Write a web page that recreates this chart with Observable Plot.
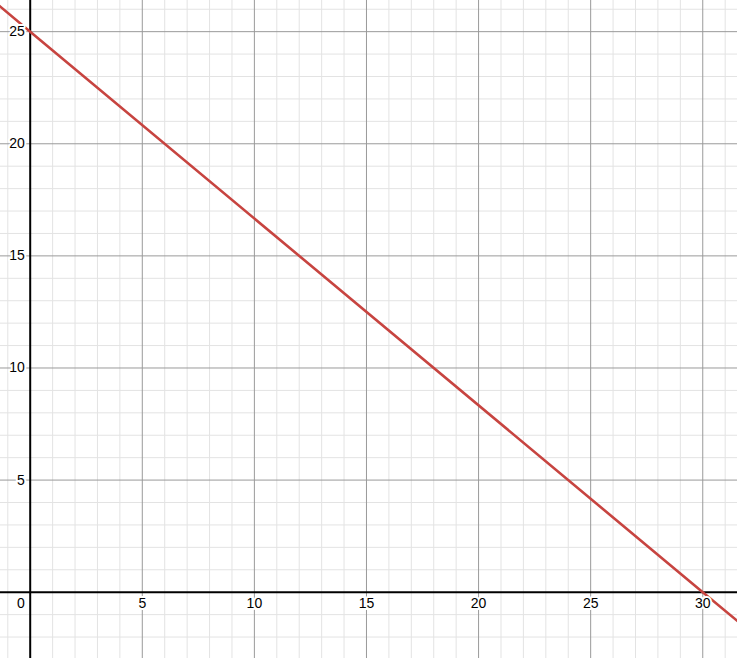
<!DOCTYPE html>
<html>
<head>
<meta charset="utf-8">
<script src="https://cdn.jsdelivr.net/npm/d3@7"></script>
<script src="https://cdn.jsdelivr.net/npm/@observablehq/plot@0.6"></script>
<style>
  html, body { margin: 0; padding: 0; background: #fff; }
  #chart svg { display: block; }
</style>
</head>
<body>
<div id="chart"></div>
<script>
// Tick labels
const xTickLabels = [5, 10, 15, 20, 25, 30];
const yTickLabels = [5, 10, 15, 20, 25];
// Line (passes through (0,25) and (30,0))
const lineX = [-1.4, 0, 30, 31.6];
const lineY = [26.17, 25, 0, -1.33];

const xDomain = [-1.325, 31.55];
const yDomain = [-2.957, 26.39];

const minorX = d3.range(-1, 32).filter(v => v % 5 !== 0);
const minorY = d3.range(-2, 27).filter(v => v % 5 !== 0);
const majorX = d3.range(5, 32, 5);
const majorY = d3.range(5, 27, 5);

const linePts = lineX.map((x, i) => ({x, y: lineY[i]}));
const font = "Liberation Sans, Arial, sans-serif";

const chart = Plot.plot({
  width: 737,
  height: 658,
  margin: 0,
  x: {domain: xDomain, axis: null},
  y: {domain: yDomain, axis: null},
  style: {background: "#fff", fontFamily: font},
  marks: [
    Plot.ruleX(minorX, {stroke: "#e3e3e3", strokeWidth: 1}),
    Plot.ruleY(minorY, {stroke: "#e3e3e3", strokeWidth: 1}),
    Plot.ruleX(majorX, {stroke: "#9a9a9a", strokeWidth: 1}),
    Plot.ruleY(majorY, {stroke: "#9a9a9a", strokeWidth: 1}),
    Plot.ruleX([0], {stroke: "#000", strokeWidth: 2}),
    Plot.ruleY([0], {stroke: "#000", strokeWidth: 2}),
    Plot.line(linePts, {x: "x", y: "y", stroke: "#c74440", strokeWidth: 2.6, clip: true}),
    Plot.text(xTickLabels, {x: d => d, y: 0, text: d => String(d), dy: 11.5,
      fontSize: 14, fill: "#000", stroke: "#fff", strokeWidth: 4, paintOrder: "stroke"}),
    Plot.text(yTickLabels, {x: 0, y: d => d, text: d => String(d), dx: -5.5, textAnchor: "end",
      fontSize: 14, fill: "#000", stroke: "#fff", strokeWidth: 4, paintOrder: "stroke"}),
    Plot.text([0], {x: 0, y: 0, text: d => String(d), dx: -5.5, dy: 11.5, textAnchor: "end",
      fontSize: 14, fill: "#000", stroke: "#fff", strokeWidth: 4, paintOrder: "stroke"})
  ]
});
document.getElementById("chart").appendChild(chart);
</script>
</body>
</html>
